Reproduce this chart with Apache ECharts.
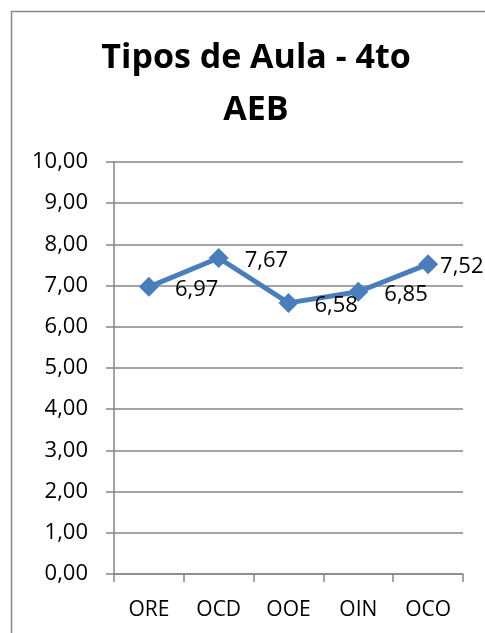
<!DOCTYPE html>
<html>
<head>
<meta charset="utf-8">
<script src="https://cdn.jsdelivr.net/npm/echarts@6/dist/echarts.min.js"></script>
<style>
  html, body { margin: 0; padding: 0; background: #fff; }
  #chart { width: 485px; height: 633px; }
</style>
</head>
<body>
<div id="chart"></div>
<script>
var categories = ["ORE", "OCD", "OOE", "OIN", "OCO"];
var values = [6.97, 7.67, 6.58, 6.85, 7.52];
var titleLines = ["Tipos de Aula - 4to", "AEB"];

function fmt(v) {
  return v.toFixed(2).replace(".", ",");
}

var myChart = echarts.init(document.getElementById("chart"));

// last label is pushed back inside the frame, like Excel does
var seriesData = values.map(function(v, i) {
  if (i === values.length - 1) {
    return { value: v, label: { distance: 2 } };
  }
  return v;
});

var option = {
  animation: false,
  textStyle: { fontFamily: "Open Sans" },
  graphic: [
    {
      type: "rect",
      shape: { x: 11.5, y: 11.5, width: 600, height: 700 },
      style: { fill: "none", stroke: "#898989", lineWidth: 1.5 }
    }
  ],
  title: {
    text: titleLines.join("\n"),
    left: 251,
    textAlign: "center",
    top: 27,
    textStyle: {
      fontFamily: "Open Sans",
      fontWeight: "bold",
      fontSize: 34,
      lineHeight: 52,
      color: "#000"
    }
  },
  grid: { left: 114, right: 22, top: 162, bottom: 59 },
  xAxis: {
    type: "category",
    data: categories,
    boundaryGap: true,
    axisLine: { lineStyle: { color: "#868686", width: 1.5 } },
    axisTick: { show: true, length: 8, lineStyle: { color: "#868686", width: 1.5 } },
    axisLabel: { color: "#000", fontSize: 21, margin: 26 }
  },
  yAxis: {
    type: "value",
    min: 0,
    max: 10,
    interval: 1,
    axisLine: { show: true, lineStyle: { color: "#868686", width: 1.5 } },
    axisTick: { show: true, length: 8, lineStyle: { color: "#868686", width: 1.5 } },
    splitLine: { lineStyle: { color: "#868686", width: 1.5 } },
    axisLabel: {
      color: "#000",
      fontSize: 22,
      margin: 26,
      formatter: function(v) { return fmt(v); }
    }
  },
  series: [
    {
      type: "line",
      data: seriesData,
      symbol: "diamond",
      symbolSize: 20,
      lineStyle: { color: "#4A7EBB", width: 5 },
      itemStyle: { color: "#4A7EBB" },
      label: {
        show: true,
        position: "right",
        distance: 16,
        offset: [0, 3],
        color: "#000",
        fontSize: 22,
        formatter: function(p) { return fmt(p.value); }
      }
    }
  ]
};

myChart.setOption(option);
</script>
</body>
</html>
